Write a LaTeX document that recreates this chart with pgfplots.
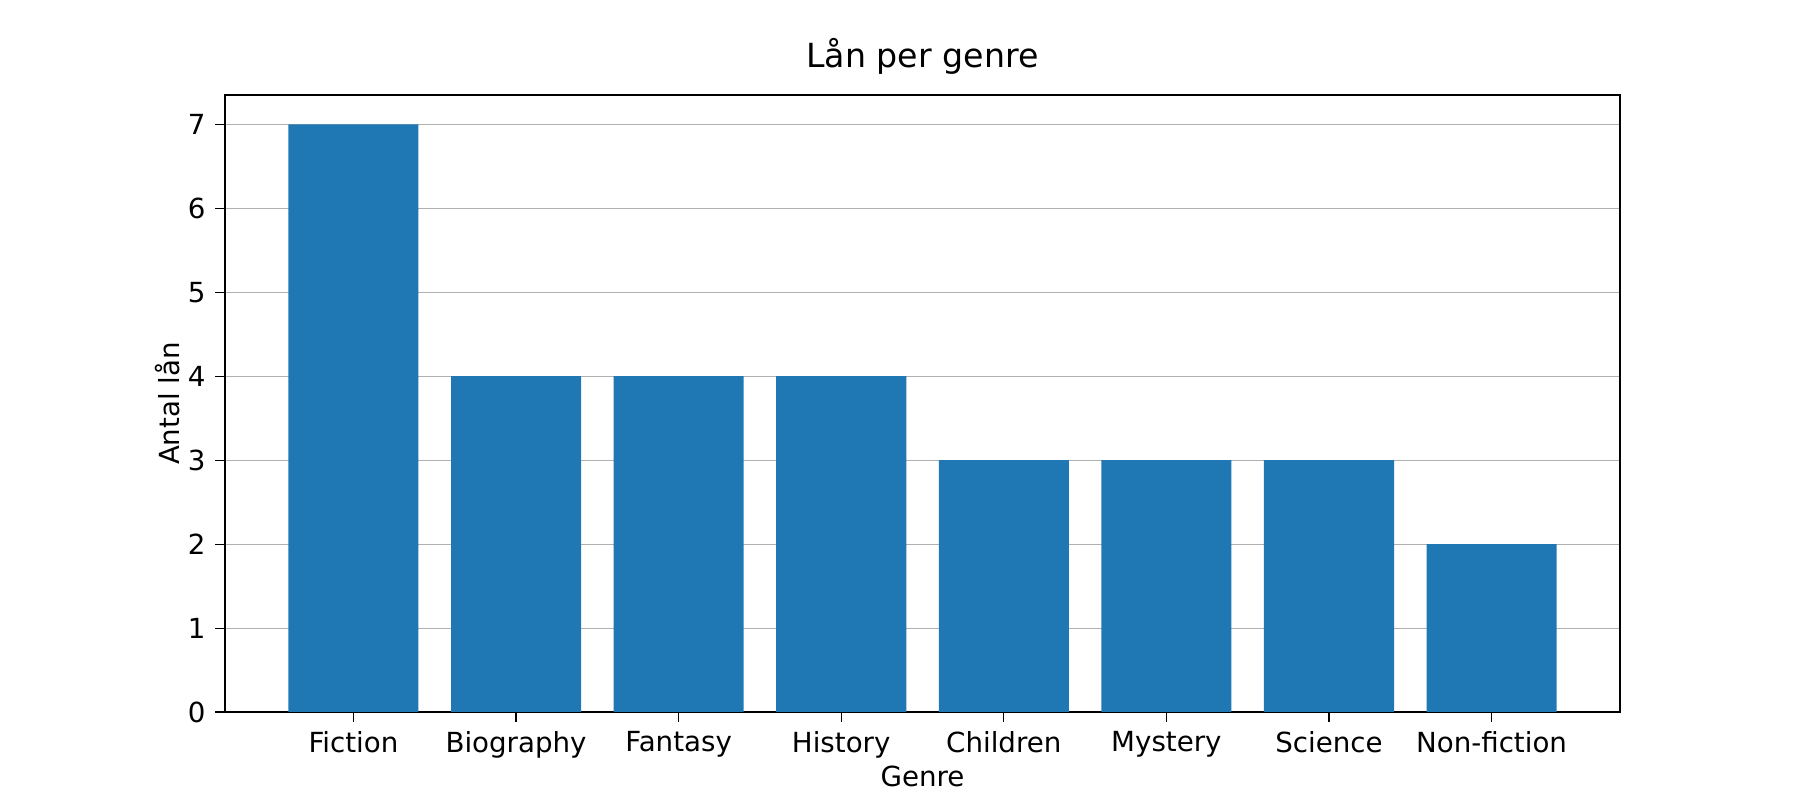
\documentclass[border=0pt]{standalone}
\usepackage{pgfplots}
\pgfplotsset{compat=1.18}
\usepackage{fontspec}
\setmainfont{DejaVu Sans}
\definecolor{mblue}{HTML}{1F77B4}
\begin{document}
\begin{tikzpicture}
\path[use as bounding box] (0,0) rectangle (9in,4in);
\begin{axis}[
  at={(1.125in,0.44in)}, anchor=south west,
  scale only axis, width=6.975in, height=3.085in,
  xmin=-0.79, xmax=7.79, ymin=0, ymax=7.35,
  xtick={0,...,7},
  xticklabels={Fiction,Biography,Fantasy,History,Children,Mystery,Science,Non-fiction},
  ytick={0,...,7},
  ymajorgrids, grid style={color=black!31, line width=0.4pt},
  tick style={black, line width=0.4pt}, major tick length=3.5pt,
  tick align=outside, xtick pos=bottom, ytick pos=left,
  /pgf/number format/assume math mode=true,
  tick label style={font=\fontsize{10pt}{12pt}\selectfont},
  label style={font=\fontsize{10pt}{12pt}\selectfont},
  title style={font=\fontsize{12pt}{14pt}\selectfont, yshift=-2pt},
  title={Lån per genre},
  xlabel={Genre}, ylabel={Antal lån},
  xlabel style={yshift=4pt}, ylabel style={yshift=-4pt},
  axis line style={line width=0.5pt},
]
\addplot[ybar, bar width=0.8, fill=mblue, draw=none] coordinates {
(0,7) (1,4) (2,4) (3,4) (4,3) (5,3) (6,3) (7,2)};
\end{axis}
\end{tikzpicture}
\end{document}
